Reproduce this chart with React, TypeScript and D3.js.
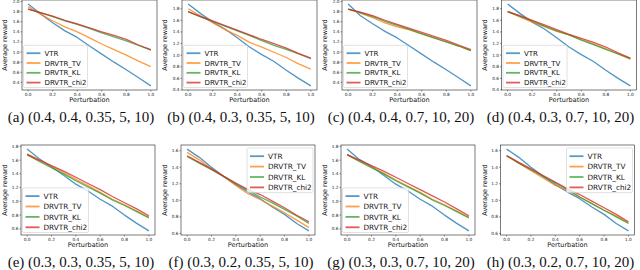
import React from 'react';
import * as d3 from 'd3';

const perturbation = [0, 0.1, 0.2, 0.3, 0.4, 0.5, 0.6, 0.7, 0.8, 0.9, 1.0];
const seriesNames = ['VTR', 'DRVTR_TV', 'DRVTR_KL', 'DRVTR_chi2'];
const seriesColors = ['#1f77b4', '#ff7f0e', '#2ca02c', '#d62728'];
const xTicks = [0, 0.2, 0.4, 0.6, 0.8, 1.0];

// (a)
const vtrA = [1.95, 1.76, 1.58, 1.42, 1.29, 1.12, 0.96, 0.80, 0.65, 0.49, 0.33];
const tvA = [1.90, 1.75, 1.62, 1.50, 1.40, 1.28, 1.16, 1.05, 0.94, 0.82, 0.71];
const klA = [1.85, 1.78, 1.70, 1.62, 1.55, 1.47, 1.38, 1.30, 1.22, 1.13, 1.04];
const chiA = [1.85, 1.78, 1.71, 1.63, 1.56, 1.48, 1.40, 1.33, 1.25, 1.14, 1.05];
// (b)
const vtrB = [1.88, 1.72, 1.57, 1.45, 1.30, 1.14, 1.01, 0.89, 0.74, 0.60, 0.47];
const tvB = [1.80, 1.68, 1.56, 1.44, 1.34, 1.22, 1.14, 1.05, 0.96, 0.85, 0.76];
const klB = [1.75, 1.66, 1.58, 1.50, 1.42, 1.34, 1.25, 1.17, 1.10, 1.02, 0.94];
const chiB = [1.75, 1.67, 1.59, 1.51, 1.43, 1.35, 1.27, 1.20, 1.12, 1.03, 0.95];
// (c)
const vtrC = [1.95, 1.72, 1.56, 1.41, 1.28, 1.12, 0.96, 0.80, 0.65, 0.49, 0.33];
const tvC = [1.85, 1.77, 1.68, 1.58, 1.50, 1.44, 1.36, 1.28, 1.20, 1.12, 1.03];
const klC = [1.85, 1.78, 1.70, 1.61, 1.53, 1.45, 1.36, 1.28, 1.20, 1.12, 1.03];
const chiC = [1.85, 1.79, 1.72, 1.63, 1.55, 1.47, 1.39, 1.31, 1.23, 1.14, 1.05];
// (d)
const vtrD = [1.88, 1.72, 1.57, 1.45, 1.30, 1.14, 1.01, 0.89, 0.74, 0.60, 0.47];
const tvD = [1.75, 1.66, 1.57, 1.49, 1.41, 1.35, 1.27, 1.19, 1.11, 1.02, 0.93];
const klD = [1.75, 1.67, 1.59, 1.50, 1.42, 1.35, 1.26, 1.18, 1.10, 1.02, 0.94];
const chiD = [1.75, 1.68, 1.60, 1.52, 1.44, 1.36, 1.29, 1.22, 1.14, 1.04, 0.95];
// (e)
const vtrE = [1.76, 1.62, 1.50, 1.38, 1.25, 1.15, 1.03, 0.93, 0.80, 0.68, 0.57];
const tvE = [1.69, 1.60, 1.51, 1.42, 1.32, 1.23, 1.13, 1.03, 0.95, 0.86, 0.77];
const klE = [1.68, 1.58, 1.49, 1.40, 1.30, 1.21, 1.12, 1.02, 0.94, 0.85, 0.76];
const chiE = [1.68, 1.60, 1.52, 1.44, 1.35, 1.26, 1.17, 1.07, 0.98, 0.89, 0.79];
// (f)
const vtrF = [1.62, 1.52, 1.40, 1.29, 1.19, 1.10, 1.02, 0.92, 0.83, 0.72, 0.63];
const tvF = [1.58, 1.49, 1.38, 1.29, 1.18, 1.08, 1.01, 0.93, 0.85, 0.76, 0.67];
const klF = [1.53, 1.45, 1.37, 1.29, 1.20, 1.12, 1.04, 0.97, 0.89, 0.81, 0.72];
const chiF = [1.54, 1.46, 1.38, 1.29, 1.21, 1.13, 1.07, 0.99, 0.91, 0.82, 0.74];
// (g)
const vtrG = [1.76, 1.61, 1.51, 1.38, 1.25, 1.15, 1.03, 0.93, 0.80, 0.68, 0.57];
const tvG = [1.68, 1.59, 1.50, 1.41, 1.31, 1.22, 1.13, 1.03, 0.95, 0.86, 0.77];
const klG = [1.68, 1.58, 1.49, 1.40, 1.30, 1.21, 1.12, 1.02, 0.94, 0.85, 0.76];
const chiG = [1.68, 1.60, 1.52, 1.44, 1.35, 1.26, 1.17, 1.08, 0.99, 0.89, 0.79];
// (h)
const vtrH = [1.62, 1.52, 1.40, 1.29, 1.19, 1.10, 1.02, 0.92, 0.83, 0.72, 0.63];
const tvH = [1.54, 1.45, 1.36, 1.27, 1.18, 1.12, 1.04, 0.96, 0.88, 0.81, 0.73];
const klH = [1.54, 1.45, 1.37, 1.29, 1.21, 1.13, 1.04, 0.96, 0.88, 0.80, 0.72];
const chiH = [1.54, 1.46, 1.38, 1.30, 1.22, 1.14, 1.07, 0.99, 0.91, 0.83, 0.74];

const captions = [
  '(a) (0.4, 0.4, 0.35, 5, 10)',
  '(b) (0.4, 0.3, 0.35, 5, 10)',
  '(c) (0.4, 0.4, 0.7, 10, 20)',
  '(d) (0.4, 0.3, 0.7, 10, 20)',
  '(e) (0.3, 0.3, 0.35, 5, 10)',
  '(f) (0.3, 0.2, 0.35, 5, 10)',
  '(g) (0.3, 0.3, 0.7, 10, 20)',
  '(h) (0.3, 0.2, 0.7, 10, 20)',
];

const panelSeries = [
  [vtrA, tvA, klA, chiA],
  [vtrB, tvB, klB, chiB],
  [vtrC, tvC, klC, chiC],
  [vtrD, tvD, klD, chiD],
  [vtrE, tvE, klE, chiE],
  [vtrF, tvF, klF, chiF],
  [vtrG, tvG, klG, chiG],
  [vtrH, tvH, klH, chiH],
];
const legendUpperRight = [false, false, false, false, false, true, false, true];

const font = 'DejaVu Sans, sans-serif';

interface PanelProps {
  ox: number;
  row: number;
  series: number[][];
  upperRight: boolean;
  caption: string;
}

const Panel: React.FC<PanelProps> = ({ ox, row, series, upperRight, caption }) => {
  const left = ox + (row === 0 ? 22 : 21);
  const right = ox + (row === 0 ? 157 : 155);
  const top = row === 0 ? 0 : 145;
  const bottom = row === 0 ? 90 : 235;

  // matplotlib-style autoscale with 5% margins
  const all = series.flat();
  const lo = d3.min(all)!;
  const hi = d3.max(all)!;
  const pad = (hi - lo) * 0.05;

  const x = d3.scaleLinear().domain([-0.05, 1.05]).range([left, right]);
  const y = d3.scaleLinear().domain([lo - pad, hi + pad]).range([bottom, top]);
  const yTicks = d3.range(Math.ceil((lo - pad) / 0.2 - 1e-9) * 0.2, hi + pad + 1e-9, 0.2);

  const line = d3.line<number>()
    .x((_, i) => x(perturbation[i]))
    .y(d => y(d));

  const lf = row === 0 ? 7 : 7.3;
  const rowH = row === 0 ? 9.8 : 10.4;
  const boxW = row === 0 ? 64 : 66;
  const boxH = rowH * 4 + 3;
  const boxX = upperRight ? right - boxW - 2 : left + 1.5;
  const boxY = upperRight ? top + 3 : bottom - boxH - 2.5;

  return (
    <g>
      <rect x={left} y={top} width={right - left} height={bottom - top} fill="white" />
      {series.map((s, k) => (
        <path key={k} d={line(s) ?? ''} fill="none" stroke={seriesColors[k]}
          strokeWidth={1.3} strokeOpacity={0.78} strokeLinejoin="round" />
      ))}
      <rect x={left} y={top} width={right - left} height={bottom - top}
        fill="none" stroke="#222" strokeWidth={0.6} />
      {xTicks.map(t => (
        <g key={t}>
          <line x1={x(t)} x2={x(t)} y1={bottom} y2={bottom + 1.5} stroke="#222" strokeWidth={0.5} />
          <text x={x(t)} y={bottom + 5.8} fontSize={4.3} textAnchor="middle" fontFamily={font} fill="#222">
            {t.toFixed(1)}
          </text>
        </g>
      ))}
      {yTicks.map(t => (
        <g key={t}>
          <line x1={left - 1.5} x2={left} y1={y(t)} y2={y(t)} stroke="#222" strokeWidth={0.5} />
          <text x={left - 2.5} y={y(t) + 1.5} fontSize={4.3} textAnchor="end" fontFamily={font} fill="#222">
            {t.toFixed(1)}
          </text>
        </g>
      ))}
      <text x={(left + right) / 2} y={bottom + 12} fontSize={6.5} textAnchor="middle" fontFamily={font} fill="#111">
        Perturbation
      </text>
      <text transform={`translate(${ox + 7},${(top + bottom) / 2}) rotate(-90)`} fontSize={6.5}
        textAnchor="middle" fontFamily={font} fill="#111">
        Average reward
      </text>
      <rect x={boxX} y={boxY} width={boxW} height={boxH} rx={1.5} fill="white" fillOpacity={0.8}
        stroke="#ccc" strokeWidth={0.6} />
      {seriesNames.map((n, k) => {
        const cy = boxY + 4 + rowH * k + rowH / 2 - 1;
        return (
          <g key={n}>
            <line x1={boxX + 3} x2={boxX + 17} y1={cy} y2={cy} stroke={seriesColors[k]}
              strokeWidth={1.8} strokeOpacity={0.75} />
            <text x={boxX + 21} y={cy + lf * 0.36} fontSize={lf} fontFamily={font} fill="#111">{n}</text>
          </g>
        );
      })}
      <text x={ox + 81} y={row === 0 ? 122 : 267} fontSize={15} textAnchor="middle"
        fontFamily="Liberation Serif, serif" fill="#111">
        {caption}
      </text>
    </g>
  );
};

const App: React.FC = () => {
  const cols = [0, 160, 320, 479.5];
  return (
    <div style={{ position: 'fixed', left: 0, top: 0 }}>
      <svg width={640} height={270} style={{ display: 'block', background: 'white' }}>
        {panelSeries.map((s, i) => (
          <Panel key={i} ox={cols[i % 4]} row={i < 4 ? 0 : 1} series={s}
            upperRight={legendUpperRight[i]} caption={captions[i]} />
        ))}
      </svg>
    </div>
  );
};

export default App;
